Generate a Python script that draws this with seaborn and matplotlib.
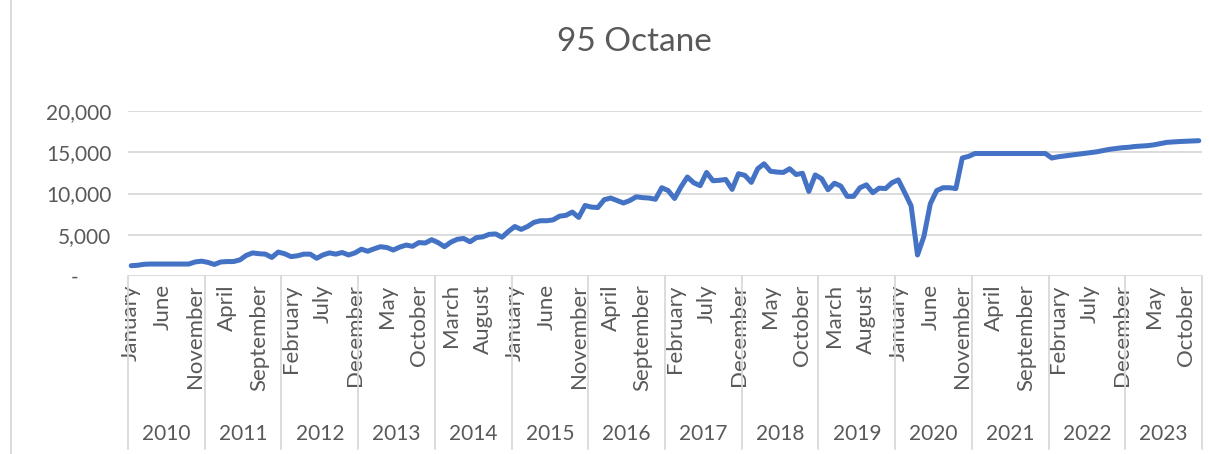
"""
95 Octane monthly price line, 2010-2023, Excel-style two level month/year axis
"""

import numpy as np
import matplotlib
matplotlib.use("Agg")
import matplotlib.pyplot as plt
import matplotlib.transforms as mtransforms
import pandas as pd
import seaborn as sns

years = [2010, 2011, 2012, 2013, 2014, 2015, 2016, 2017, 2018, 2019, 2020, 2021, 2022, 2023]
month_names = ["January", "February", "March", "April", "May", "June", "July",
               "August", "September", "October", "November", "December"]

# values, one list per year (Jan..Dec)
price_2010 = [1250, 1300, 1420, 1450, 1450, 1450, 1450, 1450, 1450, 1450, 1700, 1800]
price_2011 = [1650, 1400, 1700, 1750, 1750, 1950, 2500, 2800, 2700, 2650, 2250, 2900]
price_2012 = [2700, 2350, 2450, 2650, 2650, 2150, 2550, 2800, 2650, 2850, 2550, 2800]
price_2013 = [3250, 3000, 3300, 3550, 3450, 3150, 3500, 3750, 3600, 4050, 4000, 4400]
price_2014 = [4050, 3550, 4100, 4450, 4550, 4150, 4650, 4750, 5050, 5100, 4700, 5400]
price_2015 = [6000, 5650, 6000, 6500, 6700, 6700, 6800, 7250, 7350, 7750, 7100, 8550]
price_2016 = [8350, 8300, 9250, 9450, 9150, 8850, 9150, 9600, 9500, 9450, 9300, 10700]
price_2017 = [10350, 9400, 10800, 12000, 11300, 10950, 12550, 11550, 11600, 11700, 10500, 12400]
price_2018 = [12200, 11350, 13000, 13600, 12700, 12600, 12550, 13000, 12300, 12450, 10250, 12250]
price_2019 = [11800, 10450, 11250, 10900, 9650, 9650, 10700, 11050, 10100, 10650, 10600, 11300]
price_2020 = [11650, 10100, 8500, 2550, 4800, 8750, 10350, 10700, 10700, 10600, 14300, 14500]
price_2021 = [14850, 14850, 14850, 14850, 14850, 14850, 14850, 14850, 14850, 14850, 14850, 14850]
price_2022 = [14300, 14450, 14550, 14650, 14750, 14850, 14950, 15050, 15200, 15350, 15450, 15550]
price_2023 = [15600, 15700, 15750, 15800, 15900, 16050, 16200, 16250, 16300, 16330, 16360, 16400]

prices = (price_2010 + price_2011 + price_2012 + price_2013 + price_2014 + price_2015 +
          price_2016 + price_2017 + price_2018 + price_2019 + price_2020 + price_2021 +
          price_2022 + price_2023)

df = pd.DataFrame({
    "idx": np.arange(len(prices)),
    "month": [month_names[i % 12] for i in range(len(prices))],
    "year": [years[i // 12] for i in range(len(prices))],
    "price": prices,
})

sns.set_style("white")
plt.rcParams["font.family"] = ["Lato", "DejaVu Sans"]
grey_text = "#595959"
grid_grey = "#d9d9d9"

fig = plt.figure(figsize=(12.09, 4.54), dpi=100)
ax = fig.add_axes([128 / 1209, 1 - 276 / 454, (1202 - 128) / 1209, (276 - 111) / 454])

sns.lineplot(data=df, x="idx", y="price", color="#4472C4", linewidth=3.6, ax=ax,
             solid_joinstyle="round", solid_capstyle="round")

ax.set_xlim(-0.5, len(prices) - 0.5)
ax.set_ylim(0, 20000)
ax.set_yticks(range(0, 20001, 5000))
ax.set_yticklabels(["-      "] + [f"{v:,}" for v in range(5000, 20001, 5000)])
ax.yaxis.grid(True, color=grid_grey, linewidth=1.3)
ax.set_axisbelow(True)
for s in ax.spines.values():
    s.set_visible(False)
ax.set_xlabel("")
ax.set_ylabel("")

# every 5th month gets a label, like excel does
tick_pos = list(range(0, len(prices), 5))
ax.set_xticks(tick_pos)
ax.set_xticklabels([df["month"][i] for i in tick_pos], rotation=90, va="top", ha="center")
ax.tick_params(axis="x", length=0, pad=6, labelsize=16, colors=grey_text)
ax.tick_params(axis="y", length=0, pad=12, labelsize=15, colors=grey_text)

# year separators and year labels below the months
trans = mtransforms.blended_transform_factory(ax.transData, ax.transAxes)
for k in range(len(years) + 1):
    xb = k * 12 - 0.5
    ax.plot([xb, xb], [0, -1.05], transform=trans, color=grid_grey, linewidth=1.3, clip_on=False)
for k, yr in enumerate(years):
    ax.text(k * 12 + 5.5, -0.958, str(yr), transform=trans, ha="center", va="center",
            fontsize=15, color=grey_text)

fig.text(634 / 1209, 1 - 42 / 454, "95 Octane", ha="center", va="center", fontsize=24, color=grey_text)

# chart area border on the left
fig.add_artist(plt.Line2D([11 / 1209, 11 / 1209], [0, 1], color=grid_grey, linewidth=1.3))

fig.savefig("out.png", dpi=100)
